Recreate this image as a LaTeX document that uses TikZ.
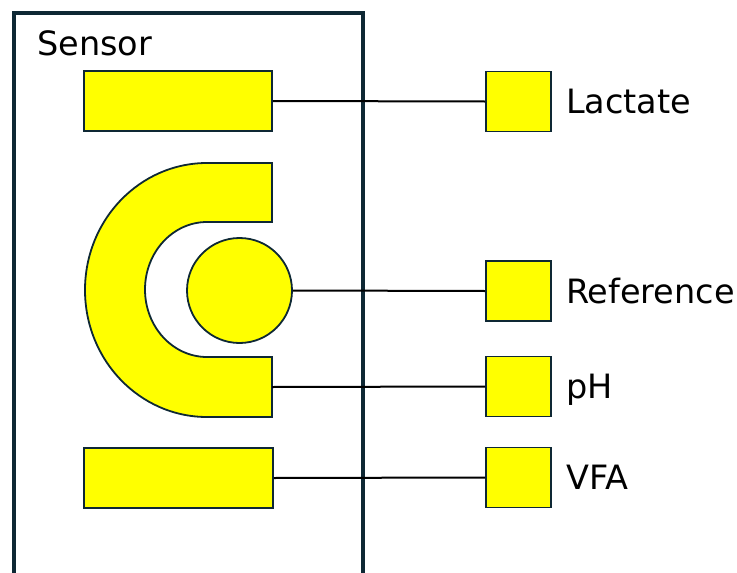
\documentclass[tikz,border=0pt]{standalone}
\usepackage{fontspec}
\setmainfont{DejaVu Sans}
\usepackage{xcolor}
\usepackage{tikz}
\usetikzlibrary{calc,positioning,shapes}
\definecolor{frame}{RGB}{14,40,52}
\definecolor{pad}{RGB}{255,255,0}

\begin{document}
\begin{tikzpicture}[x=1pt,y=-1pt,
    electrode/.style={draw=frame,line width=1.8pt,fill=pad,inner sep=0pt},
    padsq/.style={electrode,minimum width=65pt,minimum height=60pt},
    wire/.style={line width=2pt,black},
    lbl/.style={font=\fontsize{33.5}{40}\selectfont,inner sep=0pt,anchor=base west}]
    \useasboundingbox (0,0) rectangle (737,573);
    % sensor frame (open at the bottom)
    \draw[frame,line width=3.4pt] (14,580) -- (14,13) -- (363,13) -- (363,580);
    \node[lbl] (sensor) at (37,55) {Sensor};
    % electrodes
    \node[electrode,minimum width=188pt,minimum height=60pt] (lacel) at (178,101) {};
    \node[electrode,minimum width=189pt,minimum height=60pt] (vfael) at (178.5,478) {};
    \node[electrode,circle,minimum size=105pt] (refel) at (239.5,290.5) {};
    \draw[electrode] (272,163) -- (207,163)
        arc[start angle=90,end angle=270,x radius=122pt,y radius=127pt]
        -- (272,417) -- (272,357) -- (207,357)
        arc[start angle=270,end angle=90,x radius=62pt,y radius=67.5pt]
        -- (272,222) -- cycle;
    \coordinate (phel) at (272,387);
    % contact pads
    \node[padsq] (lacsq) at (518.5,101.5) {};
    \node[padsq] (refsq) at (518.5,291) {};
    \node[padsq] (phsq)  at (518.5,386.5) {};
    \node[padsq] (vfasq) at (518.5,477.5) {};
    % wires
    \draw[wire] (lacel.east) -- (lacsq.west);
    \draw[wire] (refel.east) -- (refsq.west);
    \draw[wire] (phel) -- (phsq.west);
    \draw[wire] (vfael.east) -- (vfasq.west);
    % pad labels
    \node[lbl] (laclbl) at ([xshift=14pt,yshift=-12pt]lacsq.east) {Lactate};
    \node[lbl] (reflbl) at ([xshift=14pt,yshift=-12pt]refsq.east) {Reference};
    \node[lbl] (phlbl)  at ([xshift=14pt,yshift=-12pt]phsq.east) {pH};
    \node[lbl] (vfalbl) at ([xshift=14pt,yshift=-12pt]vfasq.east) {VFA};
\end{tikzpicture}
\end{document}
